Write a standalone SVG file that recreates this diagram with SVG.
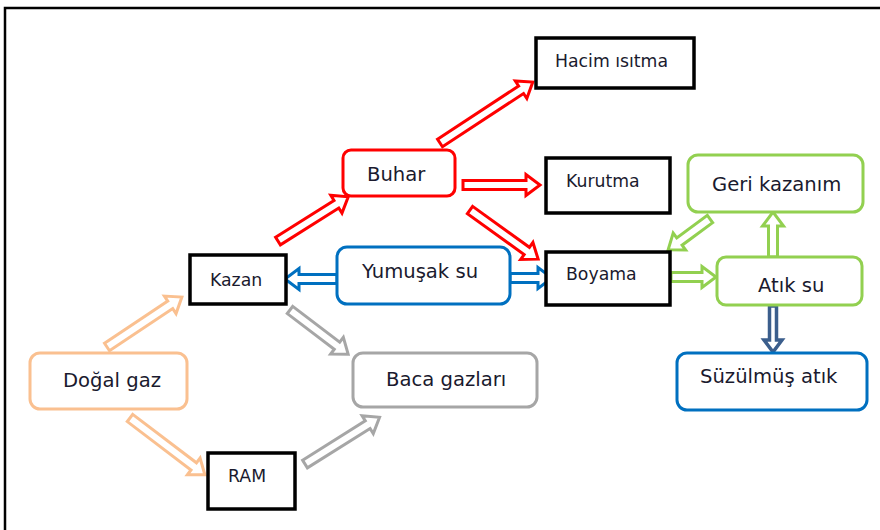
<svg xmlns="http://www.w3.org/2000/svg" width="880" height="530" viewBox="0 0 880 530">
<style>
text{font-family:"DejaVu Sans","Liberation Sans",sans-serif;fill:#1a1a2e}
.bx{fill:#fff;stroke:#000;stroke-width:3.5}
.rr{fill:#fff;stroke-width:3}
.ar{fill:#fff;stroke-width:3;stroke-linejoin:miter}
.red{stroke:#ff0000}.blue{stroke:#0070c0}.green{stroke:#92d050}.org{stroke:#fac090}.gray{stroke:#a6a6a6}.dblue{stroke:#3b5e8c;fill:#fff;stroke-width:3.5;stroke-linejoin:miter}
.s{font-size:17.3px}.l{font-size:19.6px}
</style>
<rect x="5" y="8" width="900" height="600" fill="#fff" stroke="#000" stroke-width="2.5"/>
<g id="connectors">
<path class="ar red" transform="translate(278,241) rotate(-32.2)" d="M0,-4.5H69V-10.5L83,0L69,10.5V4.5H0Z"/>
<path class="ar red" transform="translate(440,143) rotate(-33.3)" d="M0,-4.5H97V-10.5L111,0L97,10.5V4.5H0Z"/>
<path class="ar red" transform="translate(463,185)" d="M0,-4.5H63V-10.5L77,0L63,10.5V4.5H0Z"/>
<path class="ar red" transform="translate(470,210) rotate(35.8)" d="M0,-4.5H70V-10.5L84,0L70,10.5V4.5H0Z"/>
<path class="ar blue" transform="translate(337,279) rotate(180)" d="M0,-4.5H38V-10.5L52,0L38,10.5V4.5H0Z"/>
<path class="ar blue" transform="translate(510,278)" d="M0,-4.5H28V-10.5L42,0L28,10.5V4.5H0Z"/>
<path class="ar gray" transform="translate(290,310) rotate(37.2)" d="M0,-4.5H59V-10.5L73,0L59,10.5V4.5H0Z"/>
<path class="ar gray" transform="translate(305,464) rotate(-32.1)" d="M0,-4.5H74V-10.5L88,0L74,10.5V4.5H0Z"/>
<path class="ar org" transform="translate(107,347) rotate(-33.7)" d="M0,-4.5H76V-10.5L90,0L76,10.5V4.5H0Z"/>
<path class="ar org" transform="translate(130,418) rotate(37.2)" d="M0,-4.5H80V-10.5L94,0L80,10.5V4.5H0Z"/>
<path class="ar green" transform="translate(671,277)" d="M0,-4.5H31V-10.5L45,0L31,10.5V4.5H0Z"/>
<path class="ar green" transform="translate(773,257) rotate(-90)" d="M0,-4.5H31V-10.5L45,0L31,10.5V4.5H0Z"/>
<path class="ar green" transform="translate(710,219) rotate(143.6)" d="M0,-4.5H38V-10.5L52,0L38,10.5V4.5H0Z"/>
<path class="dblue" transform="translate(773,306) rotate(90)" d="M0,-3.5H34V-9L46,0L34,9V3.5H0Z"/>
</g>
<g id="hacim"><rect class="bx" x="536" y="38" width="158" height="50"/><text class="s" x="555" y="67">Hacim ısıtma</text></g>
<g id="buhar"><rect class="rr red" x="343" y="150" width="112" height="46" rx="8"/><text class="l" x="367" y="181">Buhar</text></g>
<g id="kurutma"><rect class="bx" x="546" y="158" width="124" height="55"/><text class="s" x="566" y="187">Kurutma</text></g>
<g id="boyama"><rect class="bx" x="546" y="252" width="124" height="53"/><text class="s" x="566" y="280">Boyama</text></g>
<g id="kazan"><rect class="bx" x="190" y="255" width="96" height="49"/><text class="s" x="210" y="286">Kazan</text></g>
<g id="yumusak"><rect class="rr blue" x="337" y="247" width="173" height="57" rx="10"/><text class="l" x="362" y="278">Yumuşak su</text></g>
<g id="geri"><rect class="rr green" x="688" y="155" width="175" height="57" rx="10"/><text class="l" x="712" y="191">Geri kazanım</text></g>
<g id="atik"><rect class="rr green" x="717" y="257" width="145" height="48" rx="9"/><text class="l" x="758" y="292">Atık su</text></g>
<g id="suzulmus"><rect class="rr blue" x="677" y="353" width="190" height="57" rx="10"/><text class="l" x="700" y="383">Süzülmüş atık</text></g>
<g id="dogal"><rect class="rr org" x="30" y="353" width="157" height="56" rx="10"/><text class="l" x="63" y="387">Doğal gaz</text></g>
<g id="ram"><rect class="bx" x="208" y="453" width="87" height="56"/><text class="s" x="228" y="482">RAM</text></g>
<g id="baca"><rect class="rr gray" x="353" y="353" width="184" height="54" rx="10"/><text class="l" x="386" y="386">Baca gazları</text></g>
</svg>
